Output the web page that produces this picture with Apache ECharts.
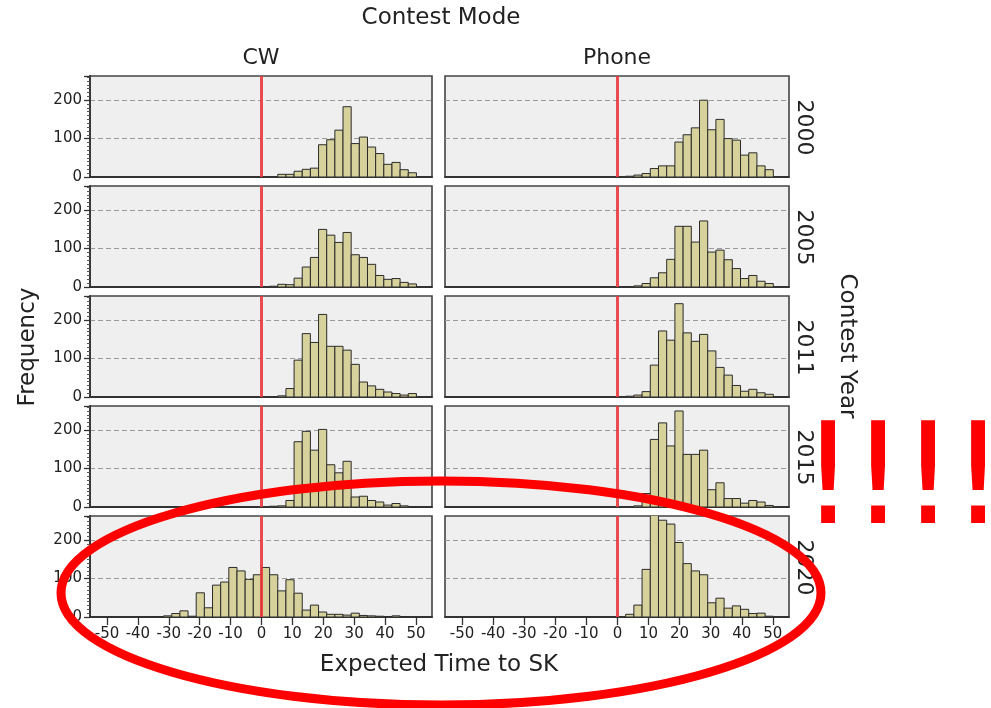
<!DOCTYPE html>
<html><head><meta charset="utf-8">
<script src="https://cdn.jsdelivr.net/npm/echarts@6/dist/echarts.min.js"></script>
<style>html,body{margin:0;padding:0;background:#fff}#c{width:991px;height:708px}</style>
</head><body><div id="c"></div>
<script>
// ---- data ----
const modes = ['CW', 'Phone'];
const years = ['2000', '2005', '2011', '2015', '2020'];
const xTickValues = [-50, -40, -30, -20, -10, 0, 10, 20, 30, 40, 50];
const yTickValues = [0, 100, 200];
const binWidth = 2.64; // bin k covers [k*binWidth, (k+1)*binWidth]

const cw2000 = [7, 7, 15, 20, 23, 84, 97, 122, 183, 87, 104, 78, 61, 33, 38, 19, 11];
const cw2000First = 2;
const phone2000 = [2, 5, 9, 22, 29, 29, 91, 110, 128, 200, 123, 150, 100, 96, 57, 63, 29, 19];
const phone2000First = 1;
const cw2005 = [2, 7, 6, 23, 52, 77, 150, 135, 116, 142, 84, 77, 59, 30, 20, 22, 12, 8];
const cw2005First = 1;
const phone2005 = [1, 3, 9, 24, 37, 72, 158, 158, 117, 172, 91, 96, 71, 48, 22, 30, 15, 9];
const phone2005First = 1;
const cw2011 = [1, 3, 22, 96, 165, 142, 215, 132, 132, 122, 85, 39, 29, 20, 13, 9, 5, 9];
const cw2011First = 1;
const phone2011 = [2, 5, 14, 83, 172, 148, 243, 167, 145, 163, 120, 77, 57, 30, 15, 20, 11, 7];
const phone2011First = 1;
const cw2015 = [2, 3, 17, 170, 197, 148, 202, 110, 89, 119, 26, 28, 17, 13, 5, 9, 3, 1];
const cw2015First = 1;
const phone2015 = [1, 3, 35, 176, 219, 159, 250, 137, 137, 148, 45, 63, 22, 22, 10, 17, 13, 4];
const phone2015First = 1;
const cw2020 = [1, 1, 3, 9, 16, 2, 63, 24, 83, 91, 129, 120, 98, 110, 129, 110, 68, 97, 62, 18, 31, 13, 7, 7, 5, 10, 4, 3, 2, 1, 3, 1];
const cw2020First = -14;
const phone2020 = [7, 31, 124, 275, 252, 242, 194, 139, 120, 110, 37, 49, 23, 29, 20, 9, 10, 2];
const phone2020First = 1;

const panelCounts = [[cw2000, phone2000], [cw2005, phone2005], [cw2011, phone2011], [cw2015, phone2015], [cw2020, phone2020]];
const panelFirst = [[cw2000First, phone2000First], [cw2005First, phone2005First], [cw2011First, phone2011First], [cw2015First, phone2015First], [cw2020First, phone2020First]];

// ---- layout ----
const colLeft = [90, 445], colWidth = [342, 344];
const rowTop = [76, 186, 296, 406, 516], rowHeight = 101;
const X_MIN = -55.5, X_MAX = 55.2, Y_MAX = 263;
const TXT = '#222';
const FONT = 'DejaVu Sans';

const grids = [], xAxes = [], yAxes = [], series = [];
let gi = 0;
for (let r = 0; r < years.length; r++) {
  for (let c = 0; c < modes.length; c++) {
    const bottom = r === years.length - 1;
    const left = c === 0;
    grids.push({left: colLeft[c], top: rowTop[r], width: colWidth[c], height: rowHeight,
      show: true, backgroundColor: '#efefef', borderColor: '#444', borderWidth: 1.6, containLabel: false});
    xAxes.push({type: 'value', gridIndex: gi, min: X_MIN, max: X_MAX,
      axisLine: {show: true, onZero: false, lineStyle: {color: '#333', width: 1.8}},
      axisTick: {show: bottom, customValues: xTickValues, length: 8, lineStyle: {color: '#333', width: 1.3}},
      axisLabel: {show: bottom, customValues: xTickValues, color: TXT, fontSize: 15, fontFamily: FONT, margin: 10},
      splitLine: {show: false}});
    yAxes.push({type: 'value', gridIndex: gi, min: 0, max: Y_MAX, interval: 100,
      axisLine: {show: left, onZero: false, lineStyle: {color: '#333', width: 1.8}},
      axisTick: {show: left, length: 6, lineStyle: {color: '#333', width: 1.3}},
      minorTick: {show: left, splitNumber: 10, length: 3, lineStyle: {color: '#555'}},
      axisLabel: {show: left, showMaxLabel: false, color: TXT, fontSize: 15, fontFamily: FONT, margin: 8},
      splitLine: {show: true, showMaxLine: false, showMinLine: false, lineStyle: {color: '#9a9a9a', type: [5, 3], width: 1}},
      minorSplitLine: {show: false}});
    const counts = panelCounts[r][c];
    const first = panelFirst[r][c];
    const data = counts.map((v, i) => [(first + i) * binWidth, (first + i + 1) * binWidth, v]);
    series.push({type: 'custom', xAxisIndex: gi, yAxisIndex: gi, clip: true, data: data,
      encode: {x: [0, 1], y: 2},
      renderItem: function (params, api) {
        const p0 = api.coord([api.value(0), api.value(2)]);
        const p1 = api.coord([api.value(1), 0]);
        return {type: 'rect', shape: {x: p0[0], y: p0[1], width: p1[0] - p0[0], height: p1[1] - p0[1]},
          style: {fill: '#d7d29c', stroke: '#2b2b2b', lineWidth: 1}};
      },
      markLine: {silent: true, symbol: ['none', 'none'], label: {show: false}, animation: false,
        lineStyle: {color: '#e8383d', width: 3, type: 'solid', opacity: 0.9}, data: [{xAxis: 0}]},
      z: 3});
    gi++;
  }
}

const titleFont = '23px "DejaVu Sans"';
const stripFont = '22px "DejaVu Sans"';
const graphics = [
  {type: 'text', x: 441, y: 18, style: {text: 'Contest Mode', font: titleFont, fill: TXT, align: 'center', verticalAlign: 'middle'}},
  {type: 'text', x: colLeft[0] + colWidth[0] / 2, y: 58, style: {text: modes[0], font: stripFont, fill: TXT, align: 'center', verticalAlign: 'middle'}},
  {type: 'text', x: colLeft[1] + colWidth[1] / 2, y: 58, style: {text: modes[1], font: stripFont, fill: TXT, align: 'center', verticalAlign: 'middle'}},
  {type: 'text', x: 28, y: 347, rotation: Math.PI / 2, style: {text: 'Frequency', font: titleFont, fill: TXT, align: 'center', verticalAlign: 'middle'}},
  {type: 'text', x: 847, y: 346, rotation: -Math.PI / 2, style: {text: 'Contest Year', font: titleFont, fill: TXT, align: 'center', verticalAlign: 'middle'}},
  {type: 'text', x: 439, y: 665, style: {text: 'Expected Time to SK', font: titleFont, fill: TXT, align: 'center', verticalAlign: 'middle'}}
];
years.forEach((y, r) => {
  graphics.push({type: 'text', x: 804, y: rowTop[r] + rowHeight / 2 + 1, rotation: -Math.PI / 2,
    style: {text: y, font: stripFont, fill: TXT, align: 'center', verticalAlign: 'middle'}});
});
// annotation overlay
graphics.push({type: 'ellipse', shape: {cx: 441, cy: 593, rx: 380, ry: 112}, z: 100,
  style: {fill: 'none', stroke: '#ff0000', lineWidth: 9}});
[828, 878, 928, 978].forEach(x => {
  graphics.push({type: 'text', x: x, y: 487, z: 100,
    style: {text: '!', font: '140px "DejaVu Sans"', fill: '#ff0000', align: 'center', verticalAlign: 'middle'}});
});

const chart = echarts.init(document.getElementById('c'), null, {renderer: 'canvas'});
chart.setOption({animation: false, backgroundColor: '#fff', grid: grids, xAxis: xAxes, yAxis: yAxes, series: series, graphic: graphics});
</script></body></html>
